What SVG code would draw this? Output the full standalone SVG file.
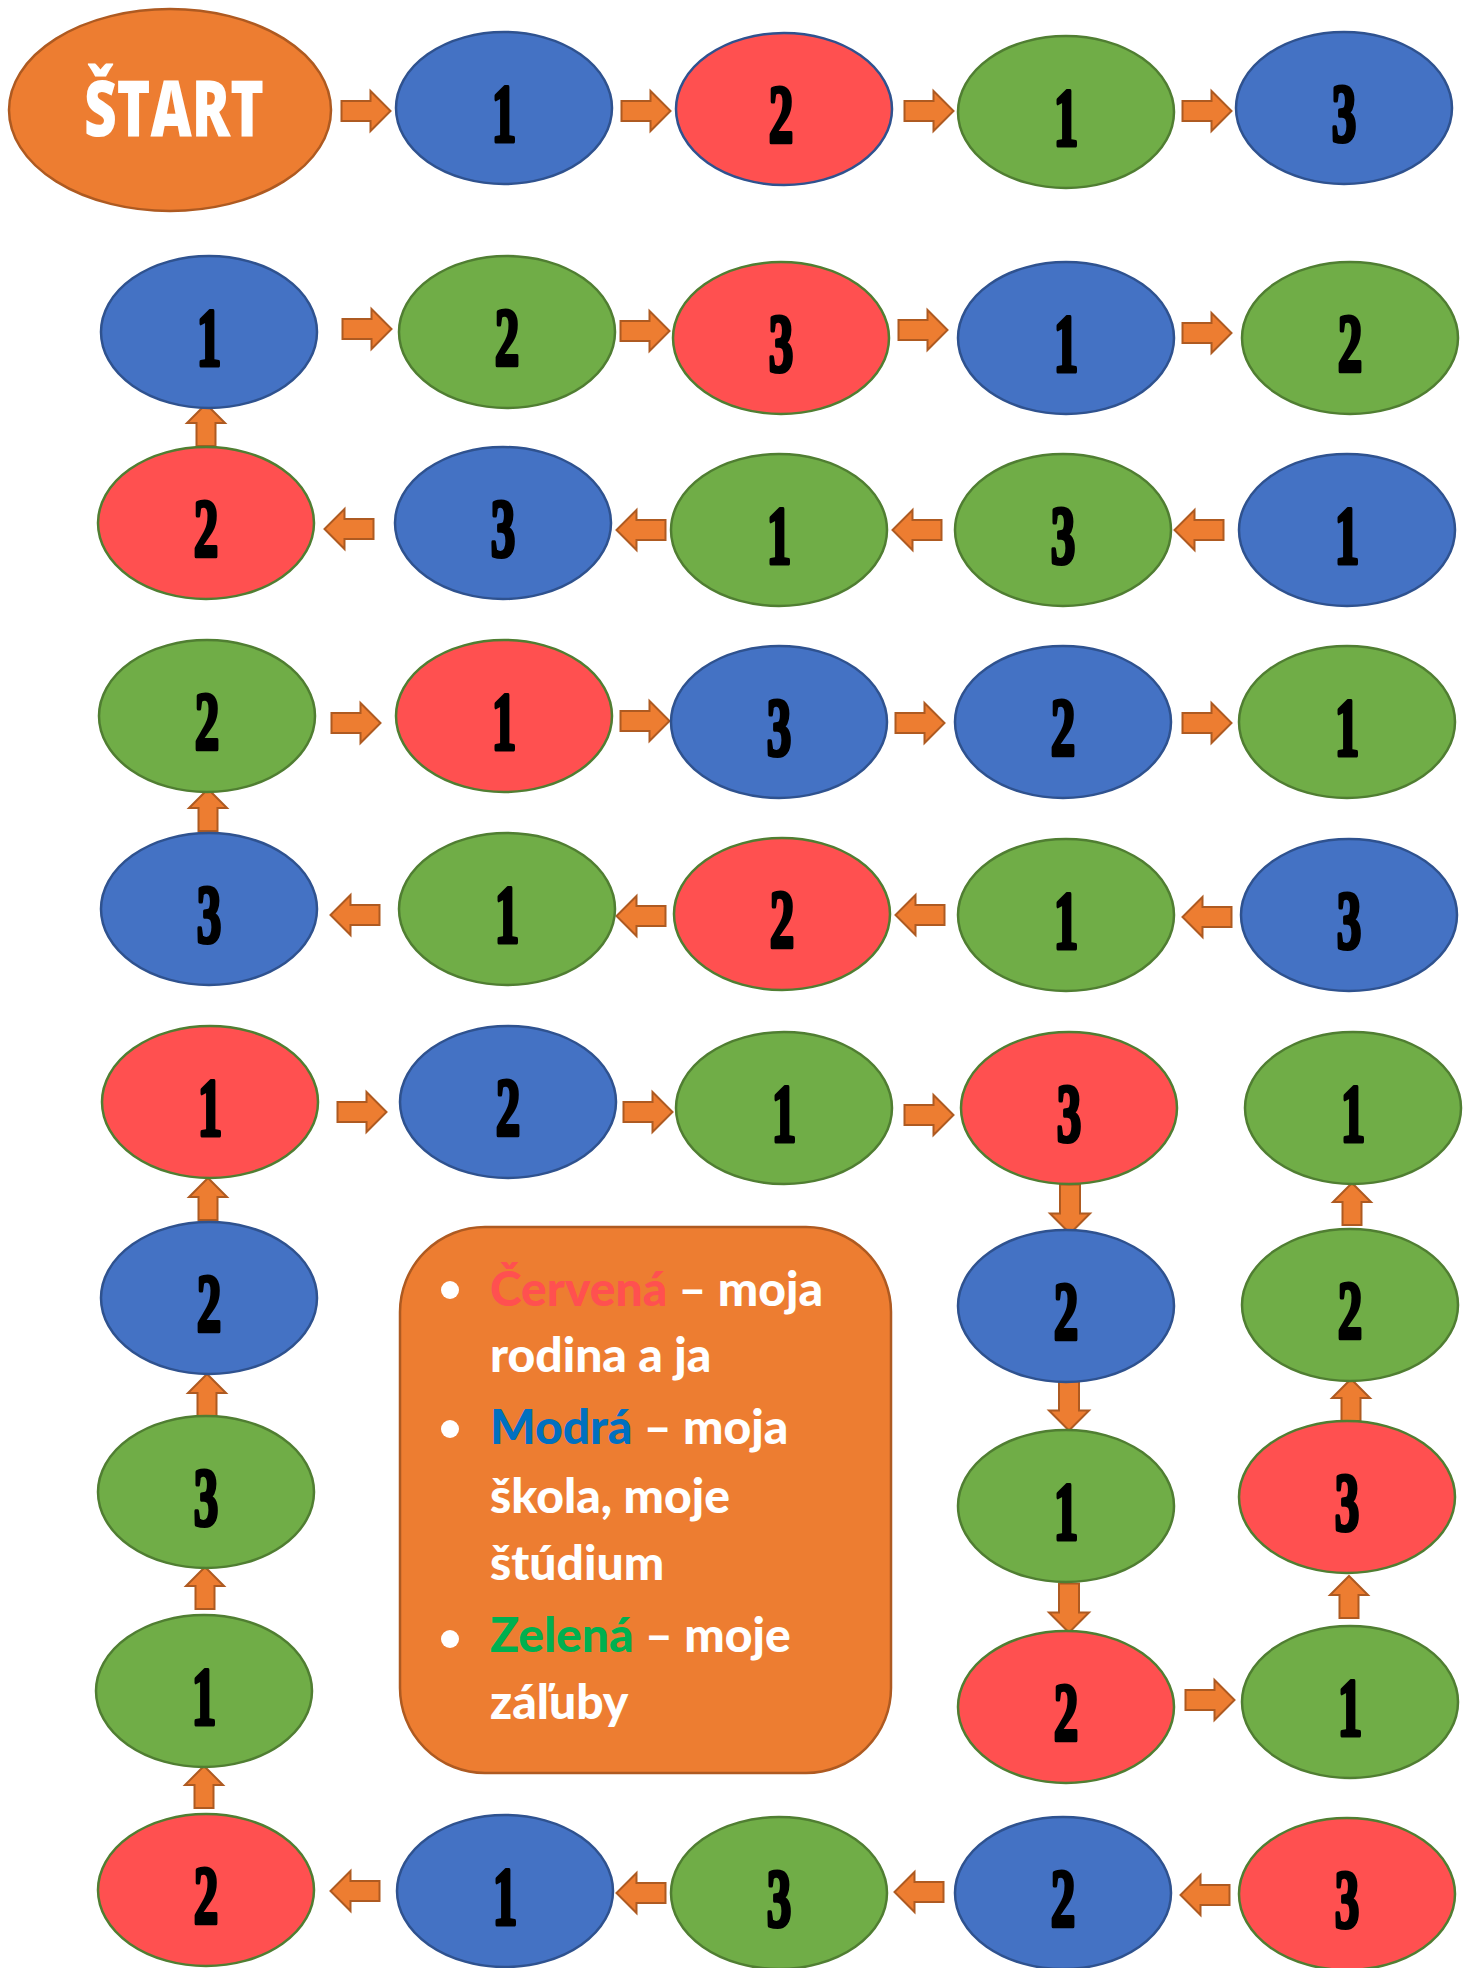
<svg xmlns="http://www.w3.org/2000/svg" xmlns:xlink="http://www.w3.org/1999/xlink" width="1467" height="1968" viewBox="0 0 1467 1968">
<defs>
<style>
.b{fill:#4472C4;stroke:#2F528F;stroke-width:2.5}
.g{fill:#70AD47;stroke:#507E32;stroke-width:2.5}
.r{fill:#FF5050;stroke:#507E32;stroke-width:2.5}
.rb{fill:#FF5050;stroke:#2F528F;stroke-width:2.5}
.o{fill:#ED7D31;stroke:#AE5A21;stroke-width:2.5}
.d{font-family:"Liberation Serif","DejaVu Serif",serif;font-weight:bold;font-size:82px;fill:#000;stroke:#000;stroke-width:4;stroke-linejoin:round;text-anchor:middle}
.arr{fill:#ED7D31;stroke:#AE5A21;stroke-width:2}
.lg{font-family:Lato,"Open Sans","DejaVu Sans",sans-serif;font-weight:900;font-size:48px;fill:#fff}
</style>
<path id="ah" d="M-24.5,-10 H4.5 V-20 L24.5,0 L4.5,20 V10 H-24.5 Z"/>
<path id="av" d="M-9.5,21 V-2 H-19 L0,-21 L19,-2 H9.5 V21 Z"/>
</defs>
<rect width="1467" height="1968" fill="#fff"/>

<g id="connectors" class="arr">
<use href="#ah" transform="translate(366,111)"/>
<use href="#ah" transform="translate(646,111)"/>
<use href="#ah" transform="translate(929,111)"/>
<use href="#ah" transform="translate(1207,111)"/>
<use href="#ah" transform="translate(367,329)"/>
<use href="#ah" transform="translate(645,331)"/>
<use href="#ah" transform="translate(923,330)"/>
<use href="#ah" transform="translate(1207,333)"/>
<use href="#ah" transform="translate(349,529) rotate(180)"/>
<use href="#ah" transform="translate(641,530) rotate(180)"/>
<use href="#ah" transform="translate(917,530) rotate(180)"/>
<use href="#ah" transform="translate(1199,530) rotate(180)"/>
<use href="#ah" transform="translate(356,723)"/>
<use href="#ah" transform="translate(645,721)"/>
<use href="#ah" transform="translate(920,723)"/>
<use href="#ah" transform="translate(1207,723)"/>
<use href="#ah" transform="translate(355,915) rotate(180)"/>
<use href="#ah" transform="translate(641,916) rotate(180)"/>
<use href="#ah" transform="translate(920,915) rotate(180)"/>
<use href="#ah" transform="translate(1207,917) rotate(180)"/>
<use href="#ah" transform="translate(362,1112)"/>
<use href="#ah" transform="translate(648,1112)"/>
<use href="#ah" transform="translate(929,1115)"/>
<use href="#ah" transform="translate(355,1891) rotate(180)"/>
<use href="#ah" transform="translate(641,1893) rotate(180)"/>
<use href="#ah" transform="translate(919,1892) rotate(180)"/>
<use href="#ah" transform="translate(1205,1895) rotate(180)"/>
<use href="#ah" transform="translate(1210,1700)"/>
<use href="#ah" transform="translate(1070,1209) rotate(90)"/>
<use href="#ah" transform="translate(1069,1406) rotate(90)"/>
<use href="#ah" transform="translate(1069,1608) rotate(90)"/>
<use href="#av" transform="translate(206,425)"/>
<use href="#av" transform="translate(208,810)"/>
<use href="#av" transform="translate(208,1199)"/>
<use href="#av" transform="translate(207,1395)"/>
<use href="#av" transform="translate(205,1588)"/>
<use href="#av" transform="translate(204,1787)"/>
<use href="#av" transform="translate(1352,1204)"/>
<use href="#av" transform="translate(1351,1400)"/>
<use href="#av" transform="translate(1349,1597)"/>
</g>

<g id="start">
<ellipse class="o" cx="170" cy="110" rx="161" ry="101"/>
<text x="174" y="136" font-family="'Open Sans',Lato,sans-serif" font-weight="800" font-size="78" fill="#fff" text-anchor="middle" textLength="180" lengthAdjust="spacingAndGlyphs">ŠTART</text>
</g>

<g id="n1"><ellipse class="b" cx="504" cy="108" rx="108" ry="76"/><text class="d" transform="translate(504,141) scale(0.6,1)">1</text></g>
<g id="n2"><ellipse class="rb" cx="784" cy="109" rx="108" ry="76"/><text class="d" transform="translate(781,142) scale(0.6,1)">2</text></g>
<g id="n3"><ellipse class="g" cx="1066" cy="112" rx="108" ry="76"/><text class="d" transform="translate(1066,145) scale(0.6,1)">1</text></g>
<g id="n4"><ellipse class="b" cx="1344" cy="108" rx="108" ry="76"/><text class="d" transform="translate(1344,141) scale(0.6,1)">3</text></g>

<g id="n5"><ellipse class="b" cx="209" cy="332" rx="108" ry="76"/><text class="d" transform="translate(209,365) scale(0.6,1)">1</text></g>
<g id="n6"><ellipse class="g" cx="507" cy="332" rx="108" ry="76"/><text class="d" transform="translate(507,365) scale(0.6,1)">2</text></g>
<g id="n7"><ellipse class="r" cx="781" cy="338" rx="108" ry="76"/><text class="d" transform="translate(781,371) scale(0.6,1)">3</text></g>
<g id="n8"><ellipse class="b" cx="1066" cy="338" rx="108" ry="76"/><text class="d" transform="translate(1066,371) scale(0.6,1)">1</text></g>
<g id="n9"><ellipse class="g" cx="1350" cy="338" rx="108" ry="76"/><text class="d" transform="translate(1350,371) scale(0.6,1)">2</text></g>

<g id="n10"><ellipse class="r" cx="206" cy="523" rx="108" ry="76"/><text class="d" transform="translate(206,556) scale(0.6,1)">2</text></g>
<g id="n11"><ellipse class="b" cx="503" cy="523" rx="108" ry="76"/><text class="d" transform="translate(503,556) scale(0.6,1)">3</text></g>
<g id="n12"><ellipse class="g" cx="779" cy="530" rx="108" ry="76"/><text class="d" transform="translate(779,563) scale(0.6,1)">1</text></g>
<g id="n13"><ellipse class="g" cx="1063" cy="530" rx="108" ry="76"/><text class="d" transform="translate(1063,563) scale(0.6,1)">3</text></g>
<g id="n14"><ellipse class="b" cx="1347" cy="530" rx="108" ry="76"/><text class="d" transform="translate(1347,563) scale(0.6,1)">1</text></g>

<g id="n15"><ellipse class="g" cx="207" cy="716" rx="108" ry="76"/><text class="d" transform="translate(207,749) scale(0.6,1)">2</text></g>
<g id="n16"><ellipse class="r" cx="504" cy="716" rx="108" ry="76"/><text class="d" transform="translate(504,749) scale(0.6,1)">1</text></g>
<g id="n17"><ellipse class="b" cx="779" cy="722" rx="108" ry="76"/><text class="d" transform="translate(779,755) scale(0.6,1)">3</text></g>
<g id="n18"><ellipse class="b" cx="1063" cy="722" rx="108" ry="76"/><text class="d" transform="translate(1063,755) scale(0.6,1)">2</text></g>
<g id="n19"><ellipse class="g" cx="1347" cy="722" rx="108" ry="76"/><text class="d" transform="translate(1347,755) scale(0.6,1)">1</text></g>

<g id="n20"><ellipse class="b" cx="209" cy="909" rx="108" ry="76"/><text class="d" transform="translate(209,942) scale(0.6,1)">3</text></g>
<g id="n21"><ellipse class="g" cx="507" cy="909" rx="108" ry="76"/><text class="d" transform="translate(507,942) scale(0.6,1)">1</text></g>
<g id="n22"><ellipse class="r" cx="782" cy="914" rx="108" ry="76"/><text class="d" transform="translate(782,947) scale(0.6,1)">2</text></g>
<g id="n23"><ellipse class="g" cx="1066" cy="915" rx="108" ry="76"/><text class="d" transform="translate(1066,948) scale(0.6,1)">1</text></g>
<g id="n24"><ellipse class="b" cx="1349" cy="915" rx="108" ry="76"/><text class="d" transform="translate(1349,948) scale(0.6,1)">3</text></g>

<g id="n25"><ellipse class="r" cx="210" cy="1102" rx="108" ry="76"/><text class="d" transform="translate(210,1135) scale(0.6,1)">1</text></g>
<g id="n26"><ellipse class="b" cx="508" cy="1102" rx="108" ry="76"/><text class="d" transform="translate(508,1135) scale(0.6,1)">2</text></g>
<g id="n27"><ellipse class="g" cx="784" cy="1108" rx="108" ry="76"/><text class="d" transform="translate(784,1141) scale(0.6,1)">1</text></g>
<g id="n28"><ellipse class="r" cx="1069" cy="1108" rx="108" ry="76"/><text class="d" transform="translate(1069,1141) scale(0.6,1)">3</text></g>
<g id="n29"><ellipse class="g" cx="1353" cy="1108" rx="108" ry="76"/><text class="d" transform="translate(1353,1141) scale(0.6,1)">1</text></g>

<g id="n30"><ellipse class="b" cx="209" cy="1298" rx="108" ry="76"/><text class="d" transform="translate(209,1331) scale(0.6,1)">2</text></g>
<g id="n31"><ellipse class="g" cx="206" cy="1492" rx="108" ry="76"/><text class="d" transform="translate(206,1525) scale(0.6,1)">3</text></g>
<g id="n32"><ellipse class="g" cx="204" cy="1691" rx="108" ry="76"/><text class="d" transform="translate(204,1724) scale(0.6,1)">1</text></g>
<g id="n33"><ellipse class="r" cx="206" cy="1890" rx="108" ry="76"/><text class="d" transform="translate(206,1923) scale(0.6,1)">2</text></g>

<g id="n34"><ellipse class="b" cx="1066" cy="1306" rx="108" ry="76"/><text class="d" transform="translate(1066,1339) scale(0.6,1)">2</text></g>
<g id="n35"><ellipse class="g" cx="1066" cy="1506" rx="108" ry="76"/><text class="d" transform="translate(1066,1539) scale(0.6,1)">1</text></g>
<g id="n36"><ellipse class="r" cx="1066" cy="1707" rx="108" ry="76"/><text class="d" transform="translate(1066,1740) scale(0.6,1)">2</text></g>

<g id="n37"><ellipse class="g" cx="1350" cy="1305" rx="108" ry="76"/><text class="d" transform="translate(1350,1338) scale(0.6,1)">2</text></g>
<g id="n38"><ellipse class="r" cx="1347" cy="1497" rx="108" ry="76"/><text class="d" transform="translate(1347,1530) scale(0.6,1)">3</text></g>
<g id="n39"><ellipse class="g" cx="1350" cy="1702" rx="108" ry="76"/><text class="d" transform="translate(1350,1735) scale(0.6,1)">1</text></g>

<g id="n40"><ellipse class="b" cx="505" cy="1891" rx="108" ry="76"/><text class="d" transform="translate(505,1924) scale(0.6,1)">1</text></g>
<g id="n41"><ellipse class="g" cx="779" cy="1893" rx="108" ry="76"/><text class="d" transform="translate(779,1926) scale(0.6,1)">3</text></g>
<g id="n42"><ellipse class="b" cx="1063" cy="1893" rx="108" ry="76"/><text class="d" transform="translate(1063,1926) scale(0.6,1)">2</text></g>
<g id="n43"><ellipse class="r" cx="1347" cy="1894" rx="108" ry="76"/><text class="d" transform="translate(1347,1927) scale(0.6,1)">3</text></g>

<g id="legend">
<rect class="o" x="400" y="1227" width="491" height="546" rx="85" ry="85"/>
<circle cx="450" cy="1290" r="9" fill="#fff"/>
<circle cx="450" cy="1429" r="9" fill="#fff"/>
<circle cx="450" cy="1639" r="9" fill="#fff"/>
<text class="lg" x="490" y="1306"><tspan fill="#FF5050">Červená</tspan> – moja</text>
<text class="lg" x="490" y="1372">rodina a ja</text>
<text class="lg" x="490" y="1444"><tspan fill="#0070C0">Modrá</tspan> – moja</text>
<text class="lg" x="490" y="1513">škola, moje</text>
<text class="lg" x="490" y="1580">štúdium</text>
<text class="lg" x="490" y="1652"><tspan fill="#00B050">Zelená</tspan> – moje</text>
<text class="lg" x="490" y="1719">záľuby</text>
</g>
</svg>
